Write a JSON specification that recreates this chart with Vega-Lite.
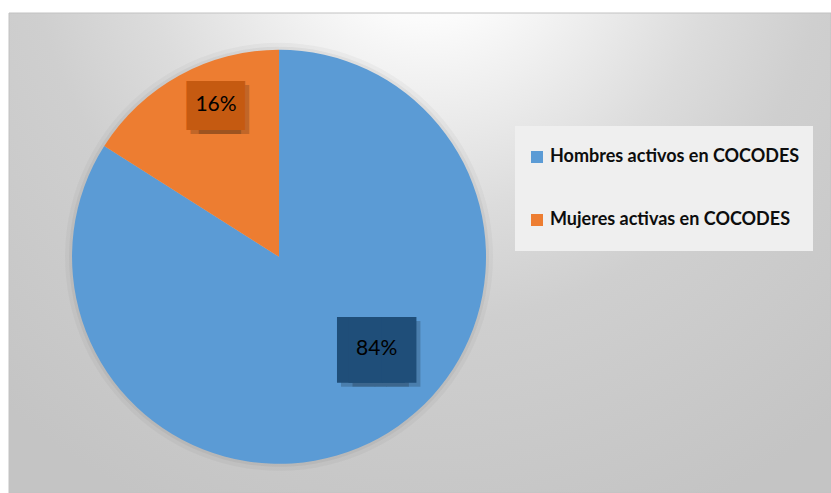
{
  "$schema": "https://vega.github.io/schema/vega-lite/v6.json",
  "width": 822,
  "height": 480,
  "autosize": {"type": "none"},
  "padding": {"left": 9, "top": 13, "right": 0, "bottom": 0},
  "background": "#ffffff",
  "config": {
    "view": {"stroke": null},
    "legend": {
      "orient": "none",
      "legendX": 506,
      "legendY": 113,
      "padding": 13,
      "clipHeight": 36,
      "fillColor": "#efefef",
      "symbolType": "square",
      "symbolSize": 144,
      "symbolStrokeWidth": 0,
      "labelFont": "Lato",
      "labelFontWeight": "bold",
      "labelFontSize": 18,
      "labelColor": "#0d0d0d",
      "labelOffset": 4,
      "labelLimit": 400,
      "rowPadding": 27
    }
  },
  "data": {
    "values": [
      {"sexo": "Hombres activos en COCODES", "valor": 84, "etiqueta": "84%"},
      {"sexo": "Mujeres activas en COCODES", "valor": 16, "etiqueta": "16%"}
    ]
  },
  "layer": [
    {
      "data": {"values": [{}]},
      "mark": {
        "type": "rect",
        "stroke": "#c2c2c2",
        "strokeWidth": 1,
        "fill": {
          "gradient": "radial",
          "x1": 0.51, "y1": 0.1, "r1": 0,
          "x2": 0.51, "y2": 0.1, "r2": 0.78,
          "stops": [
            {"offset": 0, "color": "#ffffff"},
            {"offset": 0.15, "color": "#fbfbfb"},
            {"offset": 0.45, "color": "#dcdcdc"},
            {"offset": 0.62, "color": "#cfcfcf"},
            {"offset": 1, "color": "#c4c4c4"}
          ]
        }
      },
      "encoding": {}
    },
    {
      "mark": {"type": "arc", "outerRadius": 214, "color": "#000000", "opacity": 0.03, "x": {"expr": "width * 0.3285"}, "y": {"expr": "height * 0.508"}},
      "encoding": {
        "theta": {"field": "valor", "type": "quantitative", "stack": true},
        "order": {"field": "sexo"}
      }
    },
    {
      "mark": {"type": "arc", "outerRadius": 210, "color": "#000000", "opacity": 0.045, "x": {"expr": "width * 0.3285"}, "y": {"expr": "height * 0.508"}},
      "encoding": {
        "theta": {"field": "valor", "type": "quantitative", "stack": true},
        "order": {"field": "sexo"}
      }
    },
    {
      "mark": {"type": "arc", "outerRadius": 207, "x": {"expr": "width * 0.3285"}, "y": {"expr": "height * 0.508"}},
      "encoding": {
        "theta": {"field": "valor", "type": "quantitative", "stack": true},
        "order": {"field": "sexo"},
        "color": {
          "field": "sexo",
          "type": "nominal",
          "title": null,
          "scale": {"domain": ["Hombres activos en COCODES", "Mujeres activas en COCODES"], "range": ["#5B9BD5", "#ED7D31"]}
        }
      }
    },
    {
      "mark": {"type": "text", "text": "██", "font": "DejaVu Sans Mono", "fontSize": 55.4, "align": "center", "baseline": "middle", "color": "#000000", "radius": 134, "thetaOffset": -0.314, "dx": -1.75, "dy": 7, "x": {"expr": "width * 0.3285"}, "y": {"expr": "height * 0.508"}},
      "encoding": {
        "theta": {"field": "valor", "type": "quantitative", "stack": true},
        "order": {"field": "sexo"},
        "opacity": {"condition": {"test": "datum.sexo === 'Hombres activos en COCODES'", "value": 0.18}, "value": 0}
      }
    },
    {
      "mark": {"type": "text", "text": "██", "font": "DejaVu Sans Mono", "fontSize": 55.4, "align": "center", "baseline": "middle", "color": "#000000", "radius": 134, "thetaOffset": -0.314, "dx": 9.75, "dy": 7, "x": {"expr": "width * 0.3285"}, "y": {"expr": "height * 0.508"}},
      "encoding": {
        "theta": {"field": "valor", "type": "quantitative", "stack": true},
        "order": {"field": "sexo"},
        "opacity": {"condition": {"test": "datum.sexo === 'Hombres activos en COCODES'", "value": 0.18}, "value": 0}
      }
    },
    {
      "mark": {"type": "text", "text": "██", "font": "DejaVu Sans Mono", "fontSize": 55.4, "align": "center", "baseline": "middle", "color": "#1F4E79", "radius": 134, "thetaOffset": -0.314, "dx": -5.75, "dy": 3, "x": {"expr": "width * 0.3285"}, "y": {"expr": "height * 0.508"}},
      "encoding": {
        "theta": {"field": "valor", "type": "quantitative", "stack": true},
        "order": {"field": "sexo"},
        "opacity": {"condition": {"test": "datum.sexo === 'Hombres activos en COCODES'", "value": 1}, "value": 0}
      }
    },
    {
      "mark": {"type": "text", "text": "██", "font": "DejaVu Sans Mono", "fontSize": 55.4, "align": "center", "baseline": "middle", "color": "#1F4E79", "radius": 134, "thetaOffset": -0.314, "dx": 5.75, "dy": 3, "x": {"expr": "width * 0.3285"}, "y": {"expr": "height * 0.508"}},
      "encoding": {
        "theta": {"field": "valor", "type": "quantitative", "stack": true},
        "order": {"field": "sexo"},
        "opacity": {"condition": {"test": "datum.sexo === 'Hombres activos en COCODES'", "value": 1}, "value": 0}
      }
    },
    {
      "mark": {"type": "text", "font": "Lato", "fontSize": 21, "align": "center", "baseline": "middle", "color": "#000000", "radius": 134, "thetaOffset": -0.314, "x": {"expr": "width * 0.3285"}, "y": {"expr": "height * 0.508"}},
      "encoding": {
        "theta": {"field": "valor", "type": "quantitative", "stack": true},
        "order": {"field": "sexo"},
        "text": {"field": "etiqueta"},
        "opacity": {"condition": {"test": "datum.sexo === 'Hombres activos en COCODES'", "value": 1}, "value": 0}
      }
    },
    {
      "mark": {"type": "text", "text": "██", "font": "DejaVu Sans Mono", "fontSize": 41.3, "align": "center", "baseline": "middle", "color": "#000000", "radius": 164, "thetaOffset": 0.108, "dx": -0.15, "dy": 6.5, "x": {"expr": "width * 0.3285"}, "y": {"expr": "height * 0.508"}},
      "encoding": {
        "theta": {"field": "valor", "type": "quantitative", "stack": true},
        "order": {"field": "sexo"},
        "opacity": {"condition": {"test": "datum.sexo === 'Mujeres activas en COCODES'", "value": 0.18}, "value": 0}
      }
    },
    {
      "mark": {"type": "text", "text": "██", "font": "DejaVu Sans Mono", "fontSize": 41.3, "align": "center", "baseline": "middle", "color": "#000000", "radius": 164, "thetaOffset": 0.108, "dx": 8.15, "dy": 6.5, "x": {"expr": "width * 0.3285"}, "y": {"expr": "height * 0.508"}},
      "encoding": {
        "theta": {"field": "valor", "type": "quantitative", "stack": true},
        "order": {"field": "sexo"},
        "opacity": {"condition": {"test": "datum.sexo === 'Mujeres activas en COCODES'", "value": 0.18}, "value": 0}
      }
    },
    {
      "mark": {"type": "text", "text": "██", "font": "DejaVu Sans Mono", "fontSize": 41.3, "align": "center", "baseline": "middle", "color": "#C55A11", "radius": 164, "thetaOffset": 0.108, "dx": -4.15, "dy": 2.5, "x": {"expr": "width * 0.3285"}, "y": {"expr": "height * 0.508"}},
      "encoding": {
        "theta": {"field": "valor", "type": "quantitative", "stack": true},
        "order": {"field": "sexo"},
        "opacity": {"condition": {"test": "datum.sexo === 'Mujeres activas en COCODES'", "value": 1}, "value": 0}
      }
    },
    {
      "mark": {"type": "text", "text": "██", "font": "DejaVu Sans Mono", "fontSize": 41.3, "align": "center", "baseline": "middle", "color": "#C55A11", "radius": 164, "thetaOffset": 0.108, "dx": 4.15, "dy": 2.5, "x": {"expr": "width * 0.3285"}, "y": {"expr": "height * 0.508"}},
      "encoding": {
        "theta": {"field": "valor", "type": "quantitative", "stack": true},
        "order": {"field": "sexo"},
        "opacity": {"condition": {"test": "datum.sexo === 'Mujeres activas en COCODES'", "value": 1}, "value": 0}
      }
    },
    {
      "mark": {"type": "text", "font": "Lato", "fontSize": 21, "align": "center", "baseline": "middle", "color": "#000000", "radius": 164, "thetaOffset": 0.108, "x": {"expr": "width * 0.3285"}, "y": {"expr": "height * 0.508"}},
      "encoding": {
        "theta": {"field": "valor", "type": "quantitative", "stack": true},
        "order": {"field": "sexo"},
        "text": {"field": "etiqueta"},
        "opacity": {"condition": {"test": "datum.sexo === 'Mujeres activas en COCODES'", "value": 1}, "value": 0}
      }
    }
  ]
}
